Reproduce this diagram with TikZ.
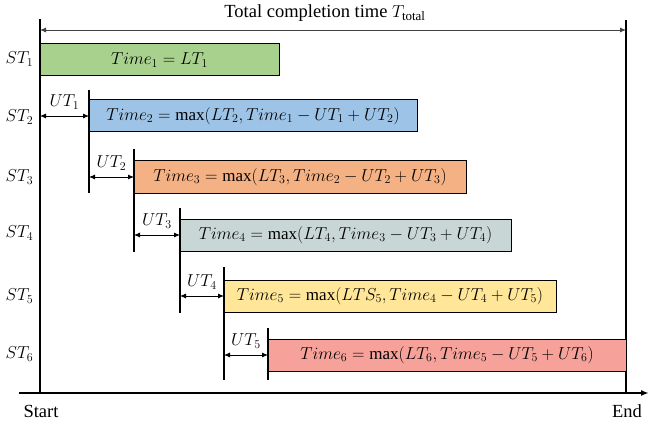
\documentclass[tikz,border=0pt]{standalone}
\usepackage{fontspec}
\setmainfont{Liberation Serif}
\usetikzlibrary{arrows.meta}
\definecolor{cgreen}{HTML}{A9D18E}
\definecolor{cblue}{HTML}{9DC3E6}
\definecolor{corange}{HTML}{F4B183}
\definecolor{cgrey}{HTML}{C9D6D6}
\definecolor{cyellow}{HTML}{FFE699}
\definecolor{cred}{HTML}{F6A29B}
\tikzset{
  box/.style={draw=black, line width=1pt, anchor=north west, inner sep=0pt, outer sep=0pt, minimum height=32pt, font=\fontsize{17}{20}\selectfont},
  axis/.style={line width=1.8pt},
  tick/.style={line width=1.3pt},
  dim/.style={line width=0.9pt, {Latex[length=6pt,width=5pt]}-{Latex[length=6pt,width=5pt]}},
  lab/.style={font=\fontsize{17}{20}\selectfont, inner sep=0pt},
  txt/.style={font=\fontsize{18.5}{22}\selectfont, inner sep=0pt},
}
\begin{document}
\begin{tikzpicture}[x=1pt,y=-1pt]
\useasboundingbox (0,0) rectangle (649,428);
% axes
\coordinate (ltop) at (40,19);
\coordinate (lbot) at (40,393);
\coordinate (rtop) at (626,20);
\coordinate (rbot) at (626,393);
\coordinate (bl) at (19,393);
\coordinate (br) at (649,393);
\draw[axis] (ltop) -- (lbot);
\draw[axis] (rtop) -- (rbot);
\draw[axis, -{Latex[length=8pt,width=6pt]}] (bl) -- (br);
\coordinate (tl) at (40,30);
\coordinate (tr) at (626,30);
\draw[dim, draw=black!75] (tl) -- (tr);
\node[txt] (total) at (325,13) {Total completion time $T_{\mathrm{total}}$};
% boxes
\node[box, fill=cgreen, minimum width=239pt] (b1) at (40,44) {$Time_1 = LT_1$};
\node[box, fill=cblue, minimum width=328pt] (b2) at (89,100) {$Time_2 = \max(LT_2, Time_1 - UT_1 + UT_2)$};
\node[box, fill=corange, minimum width=332pt] (b3) at (134,161) {$Time_3 = \max(LT_3, Time_2 - UT_2 + UT_3)$};
\node[box, fill=cgrey, minimum width=331pt] (b4) at (180,219) {$Time_4 = \max(LT_4, Time_3 - UT_3 + UT_4)$};
\node[box, fill=cyellow, minimum width=332pt] (b5) at (224,280) {$Time_5 = \max(LTS_5, Time_4 - UT_4 + UT_5)$};
\node[box, fill=cred, minimum width=358pt] (b6) at (268,339) {$Time_6 = \max(LT_6, Time_5 - UT_5 + UT_6)$};
% ticks
\coordinate (t1a) at (89,90);  \coordinate (t1b) at (89,193);
\coordinate (t2a) at (134,149); \coordinate (t2b) at (134,252);
\coordinate (t3a) at (180,208); \coordinate (t3b) at (180,313);
\coordinate (t4a) at (224,267); \coordinate (t4b) at (224,380);
\coordinate (t5a) at (268,328); \coordinate (t5b) at (268,380);
\draw[tick] (t1a) -- (t1b);
\draw[tick] (t2a) -- (t2b);
\draw[tick] (t3a) -- (t3b);
\draw[tick] (t4a) -- (t4b);
\draw[tick] (t5a) -- (t5b);
% UT arrows
\coordinate (u1a) at (40,116);  \coordinate (u1b) at (89,116);
\coordinate (u2a) at (89,177);  \coordinate (u2b) at (134,177);
\coordinate (u3a) at (134,235); \coordinate (u3b) at (180,235);
\coordinate (u4a) at (180,296); \coordinate (u4b) at (224,296);
\coordinate (u5a) at (224,355); \coordinate (u5b) at (268,355);
\draw[dim] (u1a) -- node[lab, above=6pt] (ut1) {$UT_1$} (u1b);
\draw[dim] (u2a) -- node[lab, above=6pt] (ut2) {$UT_2$} (u2b);
\draw[dim] (u3a) -- node[lab, above=6pt] (ut3) {$UT_3$} (u3b);
\draw[dim] (u4a) -- node[lab, above=6pt] (ut4) {$UT_4$} (u4b);
\draw[dim] (u5a) -- node[lab, above=6pt] (ut5) {$UT_5$} (u5b);
% ST labels
\node[lab] (st1) at (19.5,59) {$ST_1$};
\node[lab] (st2) at (19.5,117) {$ST_2$};
\node[lab] (st3) at (19.5,177) {$ST_3$};
\node[lab] (st4) at (19.5,233) {$ST_4$};
\node[lab] (st5) at (19.5,296) {$ST_5$};
\node[lab] (st6) at (19.5,354) {$ST_6$};
\node[txt] (start) at (41,411) {Start};
\node[txt] (end) at (627,411) {End};
\end{tikzpicture}
\end{document}
